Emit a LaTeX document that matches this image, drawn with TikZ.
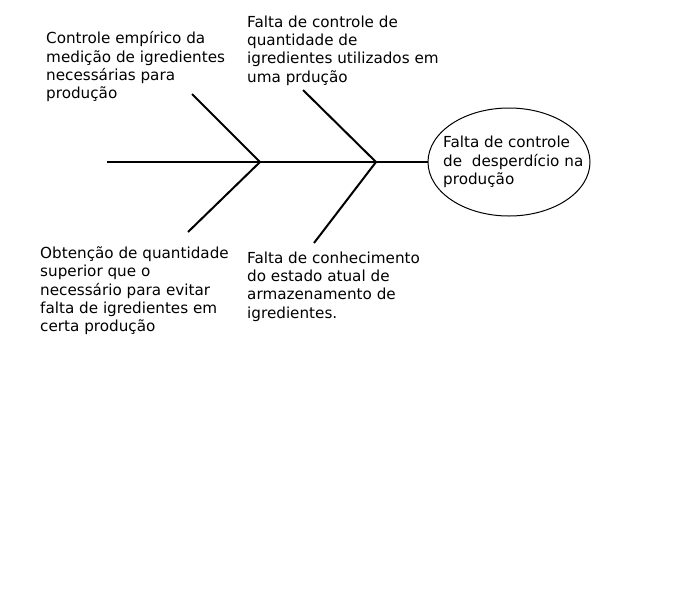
\documentclass[tikz,border=0pt]{standalone}
\usepackage{fontspec}
\setmainfont{DejaVu Sans}
\usetikzlibrary{shapes.geometric, positioning}
\tikzset{
  causetext/.style={anchor=north west, inner sep=0pt, align=left, font=\fontsize{15.2}{18.3}\selectfont},
  bone/.style={line width=2pt}
}

\begin{document}
\begin{tikzpicture}[x=1pt, y=-1pt]
  \useasboundingbox (0,0) rectangle (700,600);

  % Effect
  \node[ellipse, draw, line width=1pt, minimum width=162pt, minimum height=108pt, inner sep=0pt] (effect) at (509,162) {};
  \node[causetext, anchor=west] (effecttext) at (443,162) {Falta de controle\\de \ desperdício na\\produção};

  % Spine and joints
  \coordinate (tail) at (107,162);
  \coordinate (joint1) at (260,162);
  \coordinate (joint2) at (376,162);
  \draw[bone] (tail) -- (joint1) -- (joint2) -- (effect.west);

  % Bones
  \coordinate (up1) at (192,94);
  \coordinate (down1) at (188,232);
  \coordinate (up2) at (303,90);
  \coordinate (down2) at (314,243);
  \draw[bone] (up1) -- (joint1) -- (down1);
  \draw[bone] (up2) -- (joint2) -- (down2);

  % Causes
  \node[causetext] (cause1) at (46,31.5) {Controle empírico da\\medição de igredientes\\necessárias para\\produção};
  \node[causetext] (cause2) at (247,15.5) {Falta de controle de\\quantidade de\\igredientes utilizados em\\uma prdução};
  \node[causetext] (cause3) at (40,246.5) {Obtenção de quantidade\\superior que o\\necessário para evitar\\falta de igredientes em\\certa produção};
  \node[causetext] (cause4) at (247,251.5) {Falta de conhecimento\\do estado atual de\\armazenamento de\\igredientes.};
\end{tikzpicture}
\end{document}
